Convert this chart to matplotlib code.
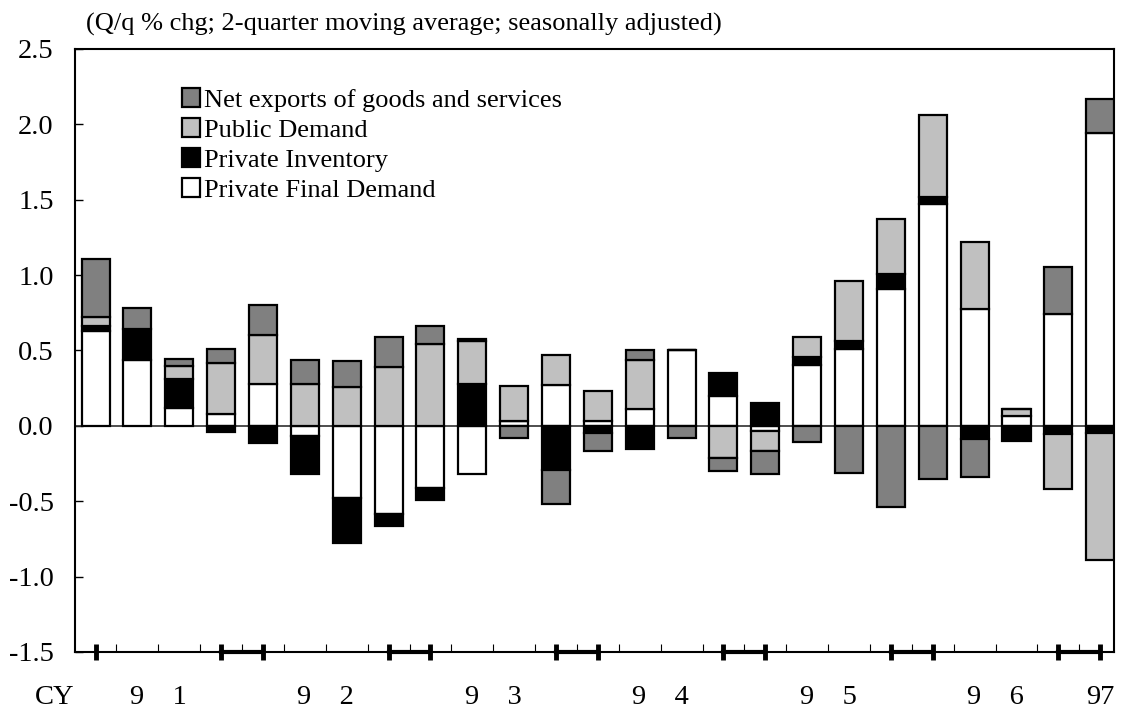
import numpy as np
import matplotlib
matplotlib.use("Agg")
import matplotlib.pyplot as plt
from matplotlib.patches import Patch

plt.rcParams["font.family"] = ["Liberation Serif", "DejaVu Serif"]

# contributions, quarterly from CY1991 Q1 to CY1997 Q1
private_final = [0.63, 0.44, 0.12, 0.08, 0.28, -0.065, -0.48, -0.585, -0.415, -0.32,
                 0.035, 0.27, 0.03, 0.115, 0.50, 0.20, -0.035, 0.405, 0.51, 0.91,
                 1.47, 0.775, 0.065, 0.745, 1.945]
private_inv = [0.035, 0.20, 0.19, -0.04, -0.115, -0.255, -0.30, -0.08, -0.075, 0.275,
               0.0, -0.29, -0.05, -0.155, 0.0, 0.15, 0.15, 0.055, 0.05, 0.10,
               0.045, -0.09, -0.10, -0.055, -0.05]
public_demand = [0.055, 0.0, 0.09, 0.335, 0.32, 0.277, 0.255, 0.39, 0.54, 0.29,
                 0.23, 0.20, 0.20, 0.32, 0.0, -0.215, -0.135, 0.13, 0.40, 0.36,
                 0.545, 0.445, 0.045, -0.365, -0.84]
net_exports = [0.39, 0.145, 0.045, 0.095, 0.20, 0.16, 0.175, 0.20, 0.125, 0.01,
               -0.08, -0.23, -0.12, 0.07, -0.08, -0.085, -0.15, -0.105, -0.31, -0.535,
               -0.355, -0.25, 0.0, 0.31, 0.225]

year_labels = ["9    1", "9    2", "9    3", "9    4", "9    5", "9    6", "97"]
year_pos = [1.5, 5.5, 9.5, 13.5, 17.5, 21.5, 24]

series = [
    ("Private Final Demand", private_final, "white"),
    ("Private Inventory", private_inv, "black"),
    ("Public Demand", public_demand, "#c0c0c0"),
    ("Net exports of goods and services", net_exports, "#808080"),
]

n = len(private_final)
x = np.arange(n)

fig = plt.figure(figsize=(11.22, 7.09), dpi=100)
ax = fig.add_axes([0.0665, 0.0804, 0.9264, 0.8505])

pos_base = np.zeros(n)
neg_base = np.zeros(n)
for name, vals, col in series:
    v = np.array(vals)
    bottom = np.where(v >= 0, pos_base, neg_base)
    ax.bar(x, v, bottom=bottom, width=0.67, color=col, edgecolor="black",
           linewidth=1.6, zorder=3)
    pos_base += np.where(v >= 0, v, 0)
    neg_base += np.where(v < 0, v, 0)

ax.axhline(0, color="#303030", linewidth=1.2, zorder=2)

ax.set_xlim(-0.5, 24.33)
ax.set_ylim(-1.5, 2.5)
ticks = np.arange(-1.5, 2.51, 0.5)
ax.set_yticks(ticks)
ax.set_yticklabels(["%.1f" % t for t in ticks], fontsize=20.5)
ax.tick_params(axis="y", direction="in", length=6, width=1, pad=15)

# quarter boundaries as minor ticks, Q4/Q1 markers as bold ticks
ax.set_xticks(np.arange(0.5, n - 1, 1.0), minor=True)
major = [0, 3, 4, 7, 8, 11, 12, 15, 16, 19, 20, 23, 24]
ax.set_xticks(major)
ax.set_xticklabels([])
ax.tick_params(axis="x", which="minor", direction="in", length=6, width=0.8)
ax.tick_params(axis="x", which="major", direction="inout", length=11, width=3.5)
for a in range(3, n - 1, 4):
    ax.plot([a, a + 1], [-1.5, -1.5], color="black", linewidth=3,
            clip_on=False, zorder=5)

for sp in ax.spines.values():
    sp.set_linewidth(1.5)

for lab, p in zip(year_labels, year_pos):
    ax.text(p, -1.8, lab, ha="center", va="center", fontsize=20.5)
ax.text(-0.97, -1.8, "CY", ha="center", va="center", fontsize=20.5)

fig.text(0.077, 0.966, "(Q/q % chg; 2-quarter moving average; seasonally adjusted)",
         ha="left", va="center", fontsize=19)

handles = [Patch(facecolor=c, edgecolor="black", linewidth=1.6, label=nm)
           for nm, _, c in series[::-1]]
ax.legend(handles=handles, loc="upper left", bbox_to_anchor=(0.103, 0.935),
          frameon=False, fontsize=19, handlelength=0.7, handleheight=0.7,
          handletextpad=0.15, labelspacing=0.25, borderpad=0, borderaxespad=0)

fig.savefig("out.png", dpi=100)
